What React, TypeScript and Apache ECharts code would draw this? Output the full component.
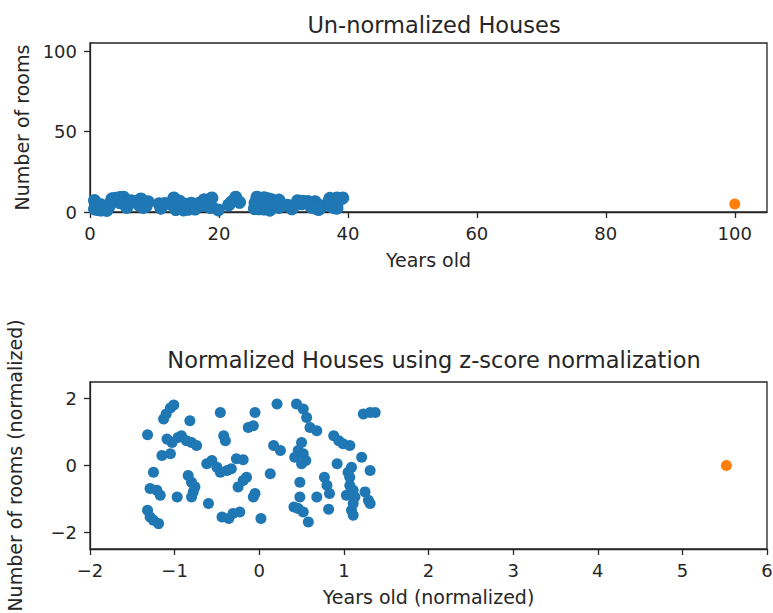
import { useEffect, useRef } from "react";
import * as echarts from "echarts";

// Raw data (top chart)
const yearsOld = [
  0.7, 1.7, 1.2, 2.3, 2.9, 0.7, 1.2, 1.7, 2.6, 3.4, 3.9, 4.6, 5.2, 4.0, 4.9, 5.9, 6.4, 7.3, 8.2, 9.0,
  3.2, 4.6, 5.7, 7.9, 7.6, 8.2, 8.7, 8.4, 8.2, 11.0, 13.0, 13.6, 13.9, 10.7, 11.6, 12.5, 13.0, 14.2, 14.9, 15.7,
  16.9, 13.3, 14.5, 15.2, 16.3, 16.0, 16.9, 17.5, 18.6, 18.9, 17.7, 18.6, 18.9, 19.9, 21.5, 22.0, 23.2, 22.6, 25.9, 27.0,
  27.6, 28.2, 29.3, 25.6, 26.2, 26.8, 27.0, 27.5, 26.8, 26.5, 26.5, 25.5, 26.2, 27.0, 27.9, 29.3, 30.6, 31.0, 31.5, 31.3,
  32.2, 33.0, 33.8, 34.9, 32.8, 34.6, 35.2, 34.9, 34.9, 36.9, 35.5, 35.8, 35.5, 35.2, 35.5, 34.3, 37.5, 38.0, 38.3, 38.3,
  37.2, 38.3, 39.2,
];
const numRooms = [
  7.1, 4.5, 3.4, 3.3, 3.0, 1.9, 1.5, 1.2, 1.0, 8.2, 8.5, 9.0, 9.2, 6.8, 6.6, 6.9, 7.0, 6.7, 6.6, 6.4,
  5.7, 5.8, 2.8, 8.1, 4.3, 3.9, 3.5, 3.2, 2.8, 2.4, 8.7, 7.0, 6.7, 5.1, 5.3, 4.9, 4.5, 4.7, 4.8, 5.5,
  5.4, 1.5, 1.3, 1.7, 1.8, 3.5, 4.0, 4.2, 2.8, 3.1, 7.6, 7.7, 8.7, 1.3, 4.4, 6.4, 6.0, 9.2, 9.2, 8.9,
  8.3, 7.6, 7.4, 5.6, 6.0, 6.6, 5.8, 5.3, 5.1, 3.9, 2.8, 2.1, 2.0, 1.8, 1.1, 2.8, 4.2, 3.6, 3.1, 2.0,
  7.0, 6.7, 6.5, 6.4, 5.1, 4.5, 4.9, 4.2, 3.6, 5.6, 3.3, 2.8, 2.4, 1.9, 1.6, 3.0, 3.2, 2.6, 2.4, 4.7,
  8.5, 8.7, 8.7,
];
const outlierYears = [100];
const outlierRooms = [5];

// Normalized data (bottom chart)
const yearsNorm = [
  -1.32, -1.25, -1.29, -1.21, -1.17, -1.32, -1.29, -1.25, -1.19, -1.13, -1.10, -1.05, -1.01, -1.09, -1.03, -0.96, -0.92, -0.86, -0.80, -0.74,
  -1.15, -1.05, -0.97, -0.82, -0.84, -0.80, -0.76, -0.78, -0.80, -0.60, -0.46, -0.42, -0.40, -0.62, -0.56, -0.50, -0.46, -0.38, -0.33, -0.27,
  -0.19, -0.44, -0.36, -0.31, -0.23, -0.25, -0.19, -0.15, -0.07, -0.05, -0.13, -0.07, -0.05, 0.02, 0.13, 0.17, 0.25, 0.21, 0.44, 0.52,
  0.56, 0.60, 0.68, 0.42, 0.46, 0.50, 0.52, 0.55, 0.50, 0.48, 0.48, 0.41, 0.46, 0.52, 0.58, 0.68, 0.77, 0.80, 0.83, 0.82,
  0.88, 0.94, 0.99, 1.07, 0.92, 1.05, 1.09, 1.07, 1.07, 1.21, 1.11, 1.13, 1.11, 1.09, 1.11, 1.03, 1.25, 1.29, 1.31, 1.31,
  1.23, 1.31, 1.37,
];
const roomsNorm = [
  0.92, -0.2, -0.69, -0.74, -0.89, -1.34, -1.54, -1.64, -1.74, 1.39, 1.54, 1.72, 1.81, 0.79, 0.69, 0.84, 0.89, 0.74, 0.69, 0.6,
  0.3, 0.35, -0.94, 1.34, -0.3, -0.5, -0.64, -0.79, -0.94, -1.14, 1.59, 0.89, 0.74, 0.05, 0.15, -0.05, -0.2, -0.15, -0.1, 0.2,
  0.17, -1.54, -1.59, -1.44, -1.39, -0.64, -0.45, -0.35, -0.94, -0.84, 1.14, 1.19, 1.59, -1.59, -0.25, 0.6, 0.45, 1.84, 1.84, 1.69,
  1.44, 1.14, 1.04, 0.25, 0.45, 0.69, 0.35, 0.15, 0.05, -0.5, -0.94, -1.24, -1.29, -1.39, -1.69, -0.94, -0.35, -0.59, -0.84, -1.31,
  0.89, 0.74, 0.65, 0.6, 0.05, -0.2, -0.05, -0.35, -0.6, 0.25, -0.74, -0.94, -1.14, -1.34, -1.49, -0.89, -0.79, -1.04, -1.14, -0.15,
  1.54, 1.59, 1.59,
];
const outlierYearsNorm = [5.52];
const outlierRoomsNorm = [0.0];

// Tick values
const topXTicks = [0, 20, 40, 60, 80, 100];
const topYTicks = [0, 50, 100];
const bottomXTicks = [-2, -1, 0, 1, 2, 3, 4, 5, 6];
const bottomYTicks = [-2, 0, 2];

const BLUE = "#1f77b4";
const ORANGE = "#ff7f0e";
const INK = "#262626";
const FONT = "DejaVu Sans";
const DOT = 11;
const TOP_BLOB_DOT = 13;

const zip = (a: number[], b: number[]) => a.map((v, i) => [v, b[i]]);
const fmt = (v: number) => String(v).replace("-", "\u2212");

function axis(gridIndex: number, min: number, max: number, ticks: number[], name: string, nameGap: number, isY: boolean) {
  return {
    gridIndex,
    type: "value",
    min,
    max,
    name,
    nameLocation: "middle",
    nameGap,
    nameRotate: isY ? 90 : 0,
    nameTextStyle: { fontFamily: FONT, fontSize: 19, color: INK },
    axisLine: { show: true, onZero: false, lineStyle: { color: INK, width: 1.3 } },
    axisTick: { show: true, inside: false, length: 6, customValues: ticks, lineStyle: { color: INK, width: 1.3 } },
    axisLabel: {
      show: true,
      customValues: ticks,
      margin: isY ? 13 : 12,
      fontFamily: FONT,
      fontSize: 18,
      color: INK,
      formatter: (v: number) => fmt(v),
    },
    splitLine: { show: false },
  };
}

export default function App() {
  const ref = useRef<HTMLDivElement>(null);
  useEffect(() => {
    document.body.style.margin = "0";
    const chart = echarts.init(ref.current!, undefined, { renderer: "svg" });
    chart.setOption({
      animation: false,
      backgroundColor: "#ffffff",
      title: [
        {
          text: "Un-normalized Houses",
          left: 429,
          top: 8,
          textAlign: "center",
          textStyle: { fontFamily: FONT, fontSize: 22.5, fontWeight: "normal", color: INK },
        },
        {
          text: "Normalized Houses using z-score normalization",
          left: 429,
          top: 343,
          textAlign: "center",
          textStyle: { fontFamily: FONT, fontSize: 22.5, fontWeight: "normal", color: INK },
        },
      ],
      grid: [
        { left: 90, top: 43, width: 677, height: 169, show: true, borderColor: INK, borderWidth: 1.3, outerBoundsMode: "none" },
        { left: 90, top: 382, width: 677, height: 167, show: true, borderColor: INK, borderWidth: 1.3, outerBoundsMode: "none" },
      ],
      xAxis: [
        axis(0, 0, 105, topXTicks, "Years old", 38, false),
        axis(1, -2, 6, bottomXTicks, "Years old (normalized)", 38, false),
      ],
      yAxis: [
        axis(0, 0, 105, topYTicks, "Number of rooms", 59, true),
        axis(1, -2.5, 2.5, bottomYTicks, "Number of rooms (normalized)", 66, true),
      ],
      series: [
        { type: "scatter", xAxisIndex: 0, yAxisIndex: 0, data: zip(yearsOld, numRooms), symbolSize: TOP_BLOB_DOT, itemStyle: { color: BLUE, opacity: 1 }, silent: true, clip: true },
        { type: "scatter", xAxisIndex: 0, yAxisIndex: 0, data: zip(outlierYears, outlierRooms), symbolSize: DOT, itemStyle: { color: ORANGE, opacity: 1 }, silent: true, clip: true },
        { type: "scatter", xAxisIndex: 1, yAxisIndex: 1, data: zip(yearsNorm, roomsNorm), symbolSize: DOT, itemStyle: { color: BLUE, opacity: 1 }, silent: true, clip: true },
        { type: "scatter", xAxisIndex: 1, yAxisIndex: 1, data: zip(outlierYearsNorm, outlierRoomsNorm), symbolSize: DOT, itemStyle: { color: ORANGE, opacity: 1 }, silent: true, clip: true },
      ],
    });
    return () => chart.dispose();
  }, []);
  return <div ref={ref} style={{ width: 773, height: 613 }} />;
}
